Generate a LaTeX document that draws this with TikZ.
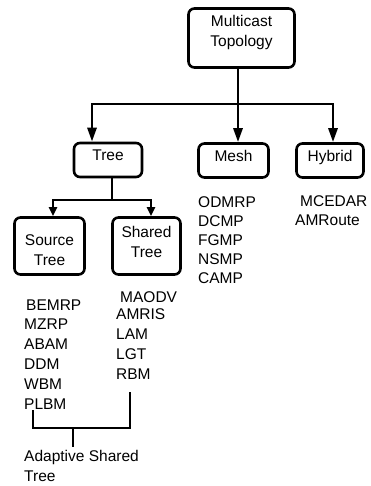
\documentclass[tikz,border=0pt]{standalone}
\usepackage{fontspec}
\setmainfont{Liberation Sans}
\usetikzlibrary{arrows.meta}

\begin{document}
\begin{tikzpicture}[x=1pt,y=-1pt,
  every node/.style={font=\fontsize{15.5}{20}\selectfont},
  box/.style={draw,line width=2.6pt,rounded corners=6pt,inner sep=0pt,align=center},
  conn/.style={line width=2.8pt},
  arr/.style={conn,-{Triangle[length=14pt,width=9pt]}},
  arrsmall/.style={conn,-{Triangle[length=9pt,width=8pt]}},
  list/.style={anchor=base west,align=left,inner sep=0pt}]
  \useasboundingbox (0,0) rectangle (370,486);

  \node[box,minimum width=106pt,minimum height=59pt,text height=31pt,text depth=13pt] (top) at (241.5,38) {Multicast\\Topology};
  \node[box,minimum width=68pt,minimum height=34pt,text height=11pt,text depth=9pt] (tree) at (108,160) {Tree};
  \node[box,minimum width=70pt,minimum height=34pt,text height=11pt,text depth=9pt] (mesh) at (233.5,160.5) {Mesh};
  \node[box,minimum width=67pt,minimum height=34pt,text height=11pt,text depth=9pt] (hybrid) at (330,160.5) {Hybrid};
  \node[box,minimum width=70pt,minimum height=57pt,text height=40pt,text depth=2pt] (source) at (49.5,246) {Source\\Tree};
  \node[box,minimum width=68pt,minimum height=57pt,text height=31pt,text depth=9pt] (shared) at (146.5,246) {Shared\\Tree};

  % lists are placed by the baseline of their last line
  \node[list,font=\fontsize{15.5}{19}\selectfont] (meshlist) at (198,283) {ODMRP\\DCMP\\FGMP\\NSMP\\CAMP};
  \node[list,font=\fontsize{15.5}{19}\selectfont] (hyblist) at (295,225) {\hspace*{5pt}MCEDAR\\AMRoute};
  \node[list,font=\fontsize{15.5}{19.8}\selectfont] (srclist) at (24,409) {\hspace*{2pt}BEMRP\\MZRP\\ABAM\\DDM\\WBM\\PLBM};
  \node[list,font=\fontsize{15.5}{19.7}\selectfont] (shrlist) at (116,379) {\hspace*{4pt}MAODV\\[-2.7pt]AMRIS\\LAM\\LGT\\RBM};
  \node[list] (ast) at (24,481) {Adaptive Shared\\Tree};

  \coordinate (topbar) at (238,104);
  \coordinate (treebar) at (112,200);
  \coordinate (join) at (73,428);

  \draw[conn] ([xshift=-3.5pt]top.south) -- (topbar);
  \draw[arr] (topbar) -| ([xshift=-16pt]tree.north);
  \draw[arr] (topbar) -- (topbar |- mesh.north);
  \draw[arr] (topbar) -| ([xshift=3pt]hybrid.north);

  \draw[conn] ([xshift=4pt]tree.south) -- (treebar);
  \draw[arrsmall] (treebar) -| ([xshift=3.5pt]source.north);
  \draw[arrsmall] (treebar) -| ([xshift=4.5pt]shared.north);

  \draw[conn] ([xshift=9pt,yshift=-1pt]srclist.south west) |- (join) -| ([xshift=14pt,yshift=-13pt]shrlist.south west);
  \draw[conn] (join) -- ([yshift=34pt]ast.base -| join);
\end{tikzpicture}
\end{document}
